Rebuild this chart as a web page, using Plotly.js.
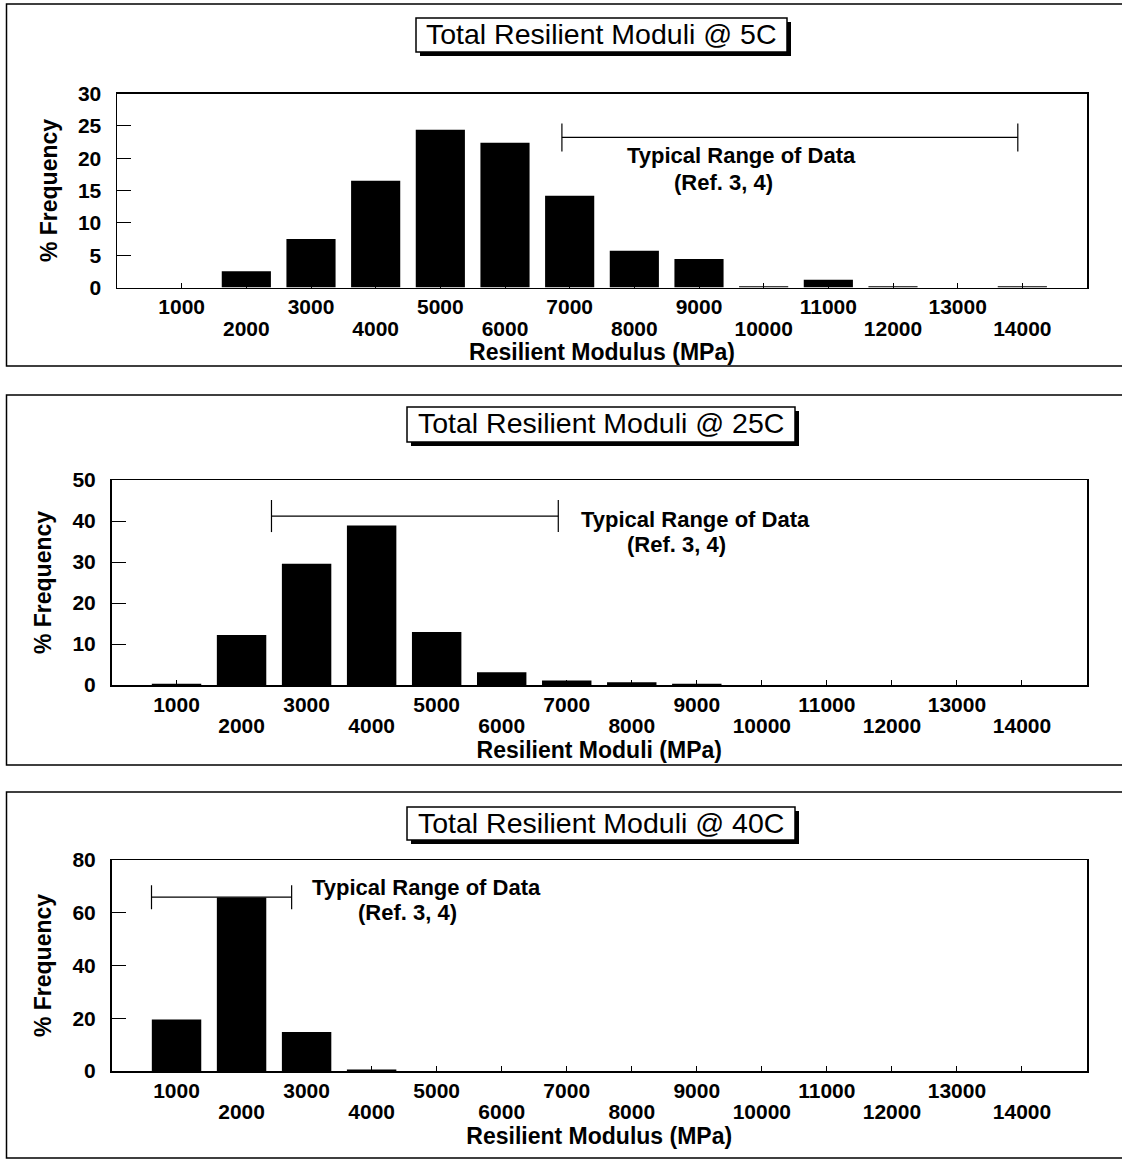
<!DOCTYPE html>
<html>
<head>
<meta charset="utf-8">
<script src="https://cdn.plot.ly/plotly-3.0.1.min.js"></script>
<style>
html,body{margin:0;padding:0;background:#fff;}
#chart{width:1122px;height:1160px;}
</style>
</head>
<body>
<div id="chart"></div>
<script>
// ---------------- data ----------------
const bins = [1000,2000,3000,4000,5000,6000,7000,8000,9000,10000,11000,12000,13000,14000];
const freq5C  = [0, 2.5, 7.5, 16.5, 24.4, 22.4, 14.2, 5.7, 4.4, 0.2, 1.2, 0.2, 0, 0.2];
const freq25C = [0.3, 12.2, 29.6, 38.9, 12.9, 3.1, 1.1, 0.7, 0.3, 0, 0, 0, 0, 0];
const freq40C = [19.5, 65.8, 14.8, 0.6, 0, 0, 0, 0, 0, 0, 0, 0, 0, 0];
const typicalRange5C  = [6880, 13930];
const typicalRange25C = [2460, 6870];
const typicalRange40C = [615, 2770];
const rangeLevel5C = 23.2, rangeLevel25C = 41.2, rangeLevel40C = 65.9;
const yTicks5C  = [0,5,10,15,20,25,30];
const yTicks25C = [0,10,20,30,40,50];
const yTicks40C = [0,20,40,60,80];
const upperLabels = bins.filter((b,i)=>i%2===0);
const lowerLabels = bins.filter((b,i)=>i%2===1);
const titles = ['Total Resilient Moduli @ 5C','Total Resilient Moduli @ 25C','Total Resilient Moduli @ 40C'];
const xTitles = ['Resilient Modulus (MPa)','Resilient Moduli (MPa)','Resilient Modulus (MPa)'];
const yTitle = '% Frequency';
const rangeLine1 = 'Typical Range of Data';
const rangeLine2 = '(Ref. 3, 4)';

// ---------------- layout helpers ----------------
const W = 1122, H = 1160;
const px = v => v / W;
const py = v => 1 - v / H;
const FONT = '"Liberation Sans", Arial, Helvetica, sans-serif';
const BLACK = '#000';

const panels = [
  {freq:freq5C, range:typicalRange5C, level:rangeLevel5C, yTicks:yTicks5C, yMax:30,
   left:117, top:93.5, bottom:287.5, frame:[4,366], box:[416,787,18,52], cap:14,
   txt1:[626,156], txt2:[673,182]},
  {freq:freq25C, range:typicalRange25C, level:rangeLevel25C, yTicks:yTicks25C, yMax:50,
   left:111.5, top:480, bottom:685, frame:[395,765], box:[407,795,407,442], cap:16,
   txt1:[580,519], txt2:[626,544]},
  {freq:freq40C, range:typicalRange40C, level:rangeLevel40C, yTicks:yTicks40C, yMax:80,
   left:111.5, top:860, bottom:1071, frame:[792,1158], box:[407,795,807,840], cap:12,
   txt1:[311,887], txt2:[357,912]}
];
const RIGHT = 1087;

const data = [];
const layout = {
  width: W, height: H,
  margin: {l:0, r:0, t:0, b:0, pad:0},
  paper_bgcolor: '#fff', plot_bgcolor: '#fff',
  showlegend: false,
  bargap: 0.24,
  font: {family: FONT, color: BLACK},
  shapes: [], annotations: []
};

const tickFont = {family: FONT, size: 21, color: BLACK, weight: 700};
const titleFont = {family: FONT, size: 23, color: BLACK, weight: 700};

panels.forEach((p, i) => {
  const n = i + 1;
  const sfx = n === 1 ? '' : String(n);
  const ov = String(n + 3);
  const xRef = 'x' + sfx, yRef = 'y' + sfx;

  data.push({
    type: 'bar', x: bins, y: p.freq, width: 760,
    marker: {color: BLACK, line: {width: 0}},
    xaxis: xRef, yaxis: yRef, hoverinfo: 'skip'
  });
  data.push({
    type: 'scatter', mode: 'markers', x: [null], y: [null],
    xaxis: 'x' + ov, yaxis: yRef, hoverinfo: 'skip', showlegend: false
  });

  layout['xaxis' + sfx] = {
    domain: [px(p.left), px(RIGHT)], anchor: yRef, range: [0, 15000],
    tickmode: 'array', tickvals: bins,
    ticktext: bins.map((b, k) => k % 2 === 0 ? String(b) : ''),
    ticks: 'inside', ticklen: 5, tickwidth: 1, tickcolor: BLACK,
    showline: true, mirror: true, linecolor: BLACK, linewidth: 1.5,
    showgrid: false, zeroline: false, tickfont: tickFont,
    ticklabelstandoff: 0, fixedrange: true
  };
  layout['xaxis' + ov] = {
    overlaying: xRef, anchor: yRef, side: 'bottom', range: [0, 15000],
    tickmode: 'array', tickvals: lowerLabels, ticktext: lowerLabels.map(String),
    ticks: '', showline: false, showgrid: false, zeroline: false,
    tickfont: tickFont, ticklabelstandoff: 26, fixedrange: true,
    title: {text: xTitles[i], font: titleFont, standoff: 0}
  };
  layout['yaxis' + sfx] = {
    domain: [py(p.bottom), py(p.top)], anchor: xRef, range: [0, p.yMax],
    tickmode: 'array', tickvals: p.yTicks, ticktext: p.yTicks.map(String),
    ticks: 'inside', ticklen: 14, tickwidth: 1, tickcolor: BLACK,
    showline: true, mirror: true, linecolor: BLACK, linewidth: 1.5,
    showgrid: false, zeroline: false, tickfont: tickFont,
    ticklabelstandoff: 10, fixedrange: true,
    title: {text: yTitle, font: titleFont, standoff: 14}
  };

  // outer panel frame
  layout.shapes.push({type:'rect', xref:'paper', yref:'paper', layer:'below',
    x0: px(6.5), x1: px(1126), y0: py(p.frame[1]), y1: py(p.frame[0]),
    line: {color: BLACK, width: 1.5}, fillcolor: 'rgba(0,0,0,0)'});
  // title box shadow + box
  const b = p.box;
  layout.shapes.push({type:'rect', xref:'paper', yref:'paper',
    x0: px(b[0] + 4), x1: px(b[1] + 4), y0: py(b[3] + 4), y1: py(b[2] + 4),
    line: {width: 0}, fillcolor: BLACK});
  layout.shapes.push({type:'rect', xref:'paper', yref:'paper',
    x0: px(b[0]), x1: px(b[1]), y0: py(b[3]), y1: py(b[2]),
    line: {color: BLACK, width: 1.5}, fillcolor: '#fff'});
  layout.annotations.push({xref:'paper', yref:'paper',
    x: px((b[0] + b[1]) / 2), y: py((b[2] + b[3]) / 2 - 1),
    xanchor: 'center', yanchor: 'middle', showarrow: false,
    text: titles[i], font: {family: FONT, size: 28.5, color: BLACK}});

  // typical range bar
  layout.shapes.push({type:'line', xref: xRef, yref: yRef,
    x0: p.range[0], x1: p.range[1], y0: p.level, y1: p.level,
    line: {color: BLACK, width: 1.2}});
  p.range.forEach(r => layout.shapes.push({type:'line', xref: xRef, yref: yRef,
    ysizemode: 'pixel', yanchor: p.level, x0: r, x1: r, y0: -p.cap, y1: p.cap,
    line: {color: BLACK, width: 1.2}}));
  layout.annotations.push({xref:'paper', yref:'paper', x: px(p.txt1[0]), y: py(p.txt1[1]),
    xanchor:'left', yanchor:'middle', showarrow:false, text: rangeLine1, borderpad: 0,
    font: {family: FONT, size: 22, color: BLACK, weight: 700}});
  layout.annotations.push({xref:'paper', yref:'paper', x: px(p.txt2[0]), y: py(p.txt2[1]),
    xanchor:'left', yanchor:'middle', showarrow:false, text: rangeLine2, borderpad: 0,
    font: {family: FONT, size: 22, color: BLACK, weight: 700}});
});

Plotly.newPlot('chart', data, layout, {staticPlot: true, displayModeBar: false});
</script>
</body>
</html>
